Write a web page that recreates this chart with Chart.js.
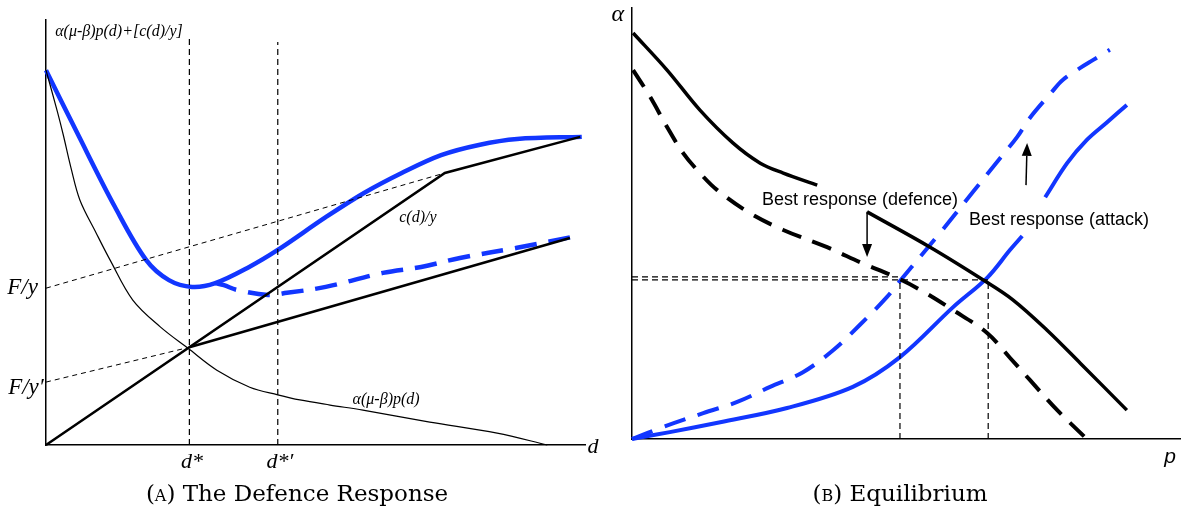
<!DOCTYPE html>
<html>
<head>
<meta charset="utf-8">
<script src="https://cdn.jsdelivr.net/npm/chart.js@4.4.1/dist/chart.umd.min.js"></script>
<style>
  body { margin: 0; background: #fff; }
  #wrap { position: relative; width: 1181px; height: 516px; overflow: hidden; }
  canvas { position: absolute; top: 0; }
  .cap { position: absolute; top: 478px; line-height: 30px; font-family: "DejaVu Serif", serif; font-size: 23px; transform: translateX(-50%); white-space: nowrap; color: #000; }
  .sc { font-variant: small-caps; }
</style>
</head>
<body>
<div id="wrap">
  <canvas id="defence" width="605" height="516" style="left:0;width:605px;height:516px"></canvas>
  <canvas id="equil" width="576" height="516" style="left:605px;width:576px;height:516px"></canvas>
  <div class="cap" style="left:297px"><span class="sc">(a)</span> The Defence Response</div>
  <div class="cap" style="left:900px"><span class="sc">(b)</span> Equilibrium</div>
</div>
<script>
// (A) defence response, d on x, cost on y (0-100 units)
const pdX = [0, 2.1, 3.2, 4.6, 6.3, 9.3, 11.9, 16.1, 21.2, 26.3, 31.7, 37.8, 43.0, 47.1, 52.7, 58.8, 71.2, 83.7, 93.0];
const pdY = [88.2, 78.5, 73.0, 65.4, 57.6, 49.9, 43.5, 34.1, 27.8, 22.8, 17.6, 13.6, 11.8, 10.6, 9.4, 8.2, 5.4, 2.8, 0];
const totalX = [0, 5.8, 12.8, 18.6, 22.8, 27.1, 31.4, 37.7, 43.0, 51.9, 59.0, 66.0, 73.3, 80.3, 87.4, 99.4];
const totalY = [88.2, 73.4, 56.0, 43.5, 38.8, 37.2, 38.1, 41.9, 45.9, 53.6, 59.3, 64.0, 68.2, 70.6, 72.0, 72.5];
const totalNewX = [31.4, 33.0, 35.4, 41.2, 44.7, 51.9, 62.5, 69.6, 76.8, 87.4, 99.4];
const totalNewY = [38.1, 37.6, 36.5, 35.3, 35.8, 37.2, 40.5, 41.9, 44.0, 46.4, 49.4];
const costX = [0, 74.0, 99.1];
const costY = [0, 64.0, 72.5];
const costNewX = [26.6, 97.2];
const costNewY = [23.0, 48.7];
const fixedX = [0, 74.0];
const fixedY = [36.9, 64.0];
const fixedNewX = [0, 26.6];
const fixedNewY = [14.8, 23.0];
const dStar = 26.6, dStarNew = 43.0;

// (B) equilibrium, p on x, alpha on y (0-100 units)
const defX = [0.2, 6.4, 12.4, 18.4, 23.4, 27.6, 33.8];
const defY = [94.2, 85.6, 76.3, 68.7, 64.0, 61.7, 58.9];
const def2X = [42.9, 54.4, 64.1, 69.5, 75.7, 81.8, 90.3];
const def2Y = [52.7, 44.5, 36.9, 32.3, 25.3, 17.6, 6.7];
const defNewX = [0.2, 3.3, 6.4, 9.3, 12.4, 15.5, 21.5, 27.6, 35.6, 42.0, 48.0, 52.6, 58.6, 64.8, 69.0, 72.6, 77.6, 83.0];
const defNewY = [85.6, 79.4, 72.4, 66.4, 61.7, 57.8, 52.4, 48.5, 44.5, 40.8, 37.6, 34.6, 29.9, 24.6, 18.8, 13.7, 6.7, 0];
const attX = [0, 6.9, 16.1, 28.3, 40.3, 48.9, 58.6, 64.8, 69.0, 71.2];
const attY = [0, 1.6, 3.9, 7.2, 12.1, 19.0, 30.6, 37.4, 43.9, 47.1];
const att2X = [75.4, 79.4, 83.0, 86.7, 90.3];
const att2Y = [56.1, 64.0, 69.4, 73.5, 77.5];
const attNewX = [0, 5.7, 13.0, 19.2, 25.2, 31.2, 36.7, 41.6, 46.5, 49.5, 56.2, 62.2, 67.2, 70.3, 72.6, 76.6, 78.6, 81.8, 84.1, 87.2];
const attNewY = [0, 2.8, 6.0, 8.6, 12.1, 15.5, 20.6, 26.5, 32.9, 37.6, 47.8, 57.3, 65.2, 70.1, 74.5, 80.5, 83.3, 86.1, 87.9, 90.3];
const eqNew = [48.9, 37.6];
const eqOld = [65.0, 36.9];

const BLUE = '#1236ff';

function line(xs, ys, color, width, dash, smooth) {
  return {
    data: xs.map((x, i) => ({ x: x, y: ys[i] })),
    showLine: true,
    borderColor: color,
    borderWidth: width,
    borderDash: dash || [],
    pointRadius: 0,
    tension: smooth ? 0.35 : 0,
    clip: false,
    fill: false
  };
}

const notes = {
  id: 'notes',
  afterDatasetsDraw(chart, args, opts) {
    const ctx = chart.ctx;
    const sx = chart.scales.x, sy = chart.scales.y;
    ctx.save();
    ctx.fillStyle = '#000';
    ctx.strokeStyle = '#000';
    ctx.textBaseline = 'middle';
    (opts.texts || []).forEach(t => {
      ctx.font = t.font;
      ctx.textAlign = t.align || 'center';
      ctx.fillText(t.text, sx.getPixelForValue(t.x), sy.getPixelForValue(t.y));
    });
    (opts.arrows || []).forEach(a => {
      const x0 = sx.getPixelForValue(a.from[0]), y0 = sy.getPixelForValue(a.from[1]);
      const x1 = sx.getPixelForValue(a.to[0]), y1 = sy.getPixelForValue(a.to[1]);
      const ang = Math.atan2(y1 - y0, x1 - x0);
      const len = 13, half = 5;
      const bx = x1 - len * Math.cos(ang), by = y1 - len * Math.sin(ang);
      ctx.lineWidth = 1.5;
      ctx.beginPath(); ctx.moveTo(x0, y0); ctx.lineTo(bx, by); ctx.stroke();
      ctx.beginPath();
      ctx.moveTo(x1, y1);
      ctx.lineTo(bx + half * Math.sin(ang), by - half * Math.cos(ang));
      ctx.lineTo(bx - half * Math.sin(ang), by + half * Math.cos(ang));
      ctx.closePath();
      ctx.fill();
    });
    ctx.restore();
  }
};

const axis = () => ({
  type: 'linear', min: 0, max: 100,
  grid: { display: false, drawTicks: false },
  ticks: { display: false },
  border: { display: true, color: '#000', width: 1.5 }
});

function baseOptions(padding, notesOpts) {
  return {
    responsive: false,
    animation: false,
    layout: { padding: padding },
    plugins: { legend: { display: false }, tooltip: { enabled: false }, notes: notesOpts },
    scales: { x: axis(), y: axis() }
  };
}

const serifIt = (s) => 'italic ' + s + 'px "Liberation Serif", serif';

new Chart(document.getElementById('defence'), {
  type: 'scatter',
  data: {
    datasets: [
      line([dStar, dStar], [0, 96.5], '#000', 1.2, [6, 4]),
      line([dStarNew, dStarNew], [0, 94.8], '#000', 1.2, [6, 4]),
      line(fixedX, fixedY, '#000', 1, [5, 4]),
      line(fixedNewX, fixedNewY, '#000', 1, [5, 4]),
      line(pdX, pdY, '#000', 1.2, null, true),
      line(costX, costY, '#000', 2.5),
      line(costNewX, costNewY, '#000', 2.5),
      line(totalNewX, totalNewY, BLUE, 4.5, [22, 12], true),
      line(totalX, totalY, BLUE, 4.5, null, true)
    ]
  },
  options: baseOptions({ left: 46, top: 20, right: 20, bottom: 71 }, {
    texts: [
      { text: 'α(μ-β)p(d)+[c(d)/y]', x: 1.7, y: 97.2, font: serifIt(16), align: 'left' },
      { text: 'F/y', x: -1.5, y: 36.9, font: serifIt(23), align: 'right' },
      { text: 'F/y′', x: -0.4, y: 13.4, font: serifIt(23), align: 'right' },
      { text: 'd*', x: 27.1, y: -4.0, font: serifIt(22) },
      { text: 'd*′', x: 43.4, y: -4.0, font: serifIt(22) },
      { text: 'd', x: 101.5, y: -0.5, font: serifIt(22) },
      { text: 'c(d)/y', x: 69.0, y: 53.4, font: serifIt(16) },
      { text: 'α(μ-β)p(d)', x: 63.1, y: 10.6, font: serifIt(16) }
    ]
  }),
  plugins: [notes]
});

new Chart(document.getElementById('equil'), {
  type: 'scatter',
  data: {
    datasets: [
      line([0, eqNew[0]], [eqNew[1], eqNew[1]], '#000', 1.2, [6, 4]),
      line([0, eqOld[0]], [eqOld[1], eqOld[1]], '#000', 1.2, [6, 4]),
      line([eqNew[0], eqNew[0]], [0, eqOld[1]], '#000', 1.2, [6, 4]),
      line([eqOld[0], eqOld[0]], [0, eqOld[1]], '#000', 1.2, [6, 4]),
      line(defNewX, defNewY, '#000', 4, [20, 12], true),
      line(defX, defY, '#000', 3.5, null, true),
      line(def2X, def2Y, '#000', 3.5, null, true),
      line(attNewX, attNewY, BLUE, 4, [22, 13], true),
      line(attX, attY, BLUE, 4, null, true),
      line(att2X, att2Y, BLUE, 4, null, true)
    ]
  },
  options: baseOptions({ left: 27, top: 8, right: 1, bottom: 77 }, {
    texts: [
      { text: 'α', x: -2.6, y: 98.4, font: serifIt(24) },
      { text: 'p', x: 98.2, y: -4.2, font: 'italic 21px "Liberation Sans", sans-serif' },
      { text: 'Best response (defence)', x: 23.7, y: 55.5, font: '18px "Liberation Sans", sans-serif', align: 'left' },
      { text: 'Best response (attack)', x: 61.5, y: 50.8, font: '18px "Liberation Sans", sans-serif', align: 'left' }
    ],
    arrows: [
      { from: [42.9, 52.7], to: [42.9, 42.2] },
      { from: [71.9, 58.9], to: [72.1, 68.7] }
    ]
  }),
  plugins: [notes]
});
</script>
</body>
</html>
